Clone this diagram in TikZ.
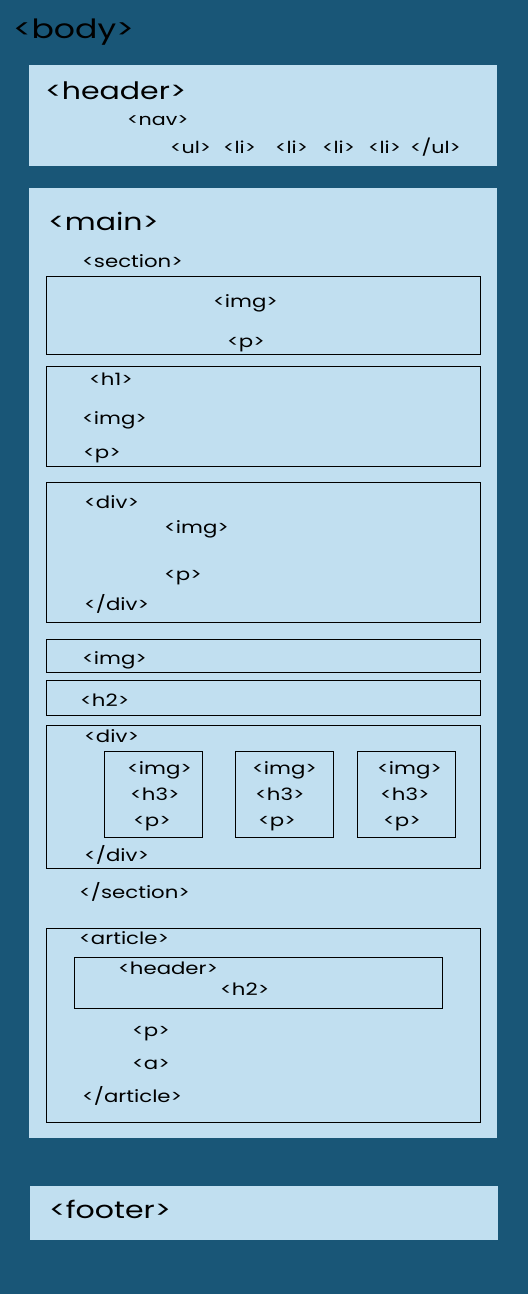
\documentclass[tikz,border=0pt]{standalone}
\usepackage{fontspec}
\setmainfont[FakeStretch=1.25]{Poppins}
\definecolor{dark}{HTML}{195677}
\definecolor{light}{HTML}{C1DFF0}
\begin{document}
\begin{tikzpicture}[x=1pt,y=-1pt,
  panel/.style={fill=light,draw=none},
  frame/.style={draw=black,line width=1pt},
  big/.style={anchor=west,inner sep=0pt,font=\fontsize{24}{28}\selectfont},
  huge/.style={anchor=west,inner sep=0pt,yshift=-3pt,font=\fontsize{26.5}{30}\selectfont},
  mid/.style={anchor=west,inner sep=0pt,font=\fontsize{17}{20}\selectfont},
  desc/.style={mid,yshift=-3.5pt},
  small/.style={anchor=west,inner sep=0pt,font=\fontsize{16.5}{19}\selectfont}]
\fill[dark] (0,0) rectangle (528,1294);
\useasboundingbox (0,0) rectangle (528,1294);
% panels
\fill[panel] (29,65) rectangle (497,166);
\fill[panel] (29,188) rectangle (497,1138);
\fill[panel] (30,1186) rectangle (498,1240);
% frames
\draw[frame] (46,276) rectangle (480,354);
\draw[frame] (46,366) rectangle (480,466);
\draw[frame] (46,482) rectangle (480,622);
\draw[frame] (46,639) rectangle (480,672);
\draw[frame] (46,680) rectangle (480,715);
\draw[frame] (46,725) rectangle (480,868);
\draw[frame] (104,751) rectangle (202,837);
\draw[frame] (235,751) rectangle (333,837);
\draw[frame] (357,751) rectangle (455,837);
\draw[frame] (46,928) rectangle (480,1122);
\draw[frame] (74,957) rectangle (442,1008);
% texts
\node[huge] (body) at (13,29) {<body>};
\node[big] (header) at (45,91) {<header>};
\node[small] (nav) at (127,121) {<nav>};
\node[small] (ul) at (170,147) {<ul>};
\node[small] (li1) at (223,147) {<li>};
\node[small] (li2) at (275,147) {<li>};
\node[small] (li3) at (322,147) {<li>};
\node[small] (li4) at (368,147) {<li>};
\node[small] (ule) at (410,147) {</ul>};
\node[big] (main) at (48,221) {<main>};
\node[mid] (section) at (82,261) {<section>};
\node[desc] (img1) at (213,300) {<img>};
\node[desc] (p1) at (227,341) {<p>};
\node[mid] (h1) at (89,379) {<h1>};
\node[desc] (img2) at (82,417) {<img>};
\node[desc] (p2) at (83,452) {<p>};
\node[mid] (div1) at (84,502) {<div>};
\node[desc] (img3) at (164,526) {<img>};
\node[desc] (p3) at (164,574) {<p>};
\node[mid] (div1e) at (84,604) {</div>};
\node[desc] (img4) at (82,657) {<img>};
\node[mid] (h2a) at (80,700) {<h2>};
\node[mid] (div2) at (84,736) {<div>};
\node[desc] (imga) at (127,767) {<img>};
\node[mid] (h3a) at (130,794) {<h3>};
\node[desc] (pa) at (133,820) {<p>};
\node[desc] (imgb) at (252,767) {<img>};
\node[mid] (h3b) at (255,794) {<h3>};
\node[desc] (pb) at (258,820) {<p>};
\node[desc] (imgc) at (377,767) {<img>};
\node[mid] (h3c) at (380,794) {<h3>};
\node[desc] (pc) at (383,820) {<p>};
\node[mid] (div2e) at (84,855) {</div>};
\node[mid] (sectione) at (79,892) {</section>};
\node[mid] (article) at (79,938) {<article>};
\node[mid] (aheader) at (118,968) {<header>};
\node[mid] (h2b) at (220,989) {<h2>};
\node[desc] (p4) at (132,1030) {<p>};
\node[mid] (a) at (132,1065) {<a>};
\node[mid] (articlee) at (82,1096) {</article>};
\node[big] (footer) at (49,1209) {<footer>};
\end{tikzpicture}
\end{document}
